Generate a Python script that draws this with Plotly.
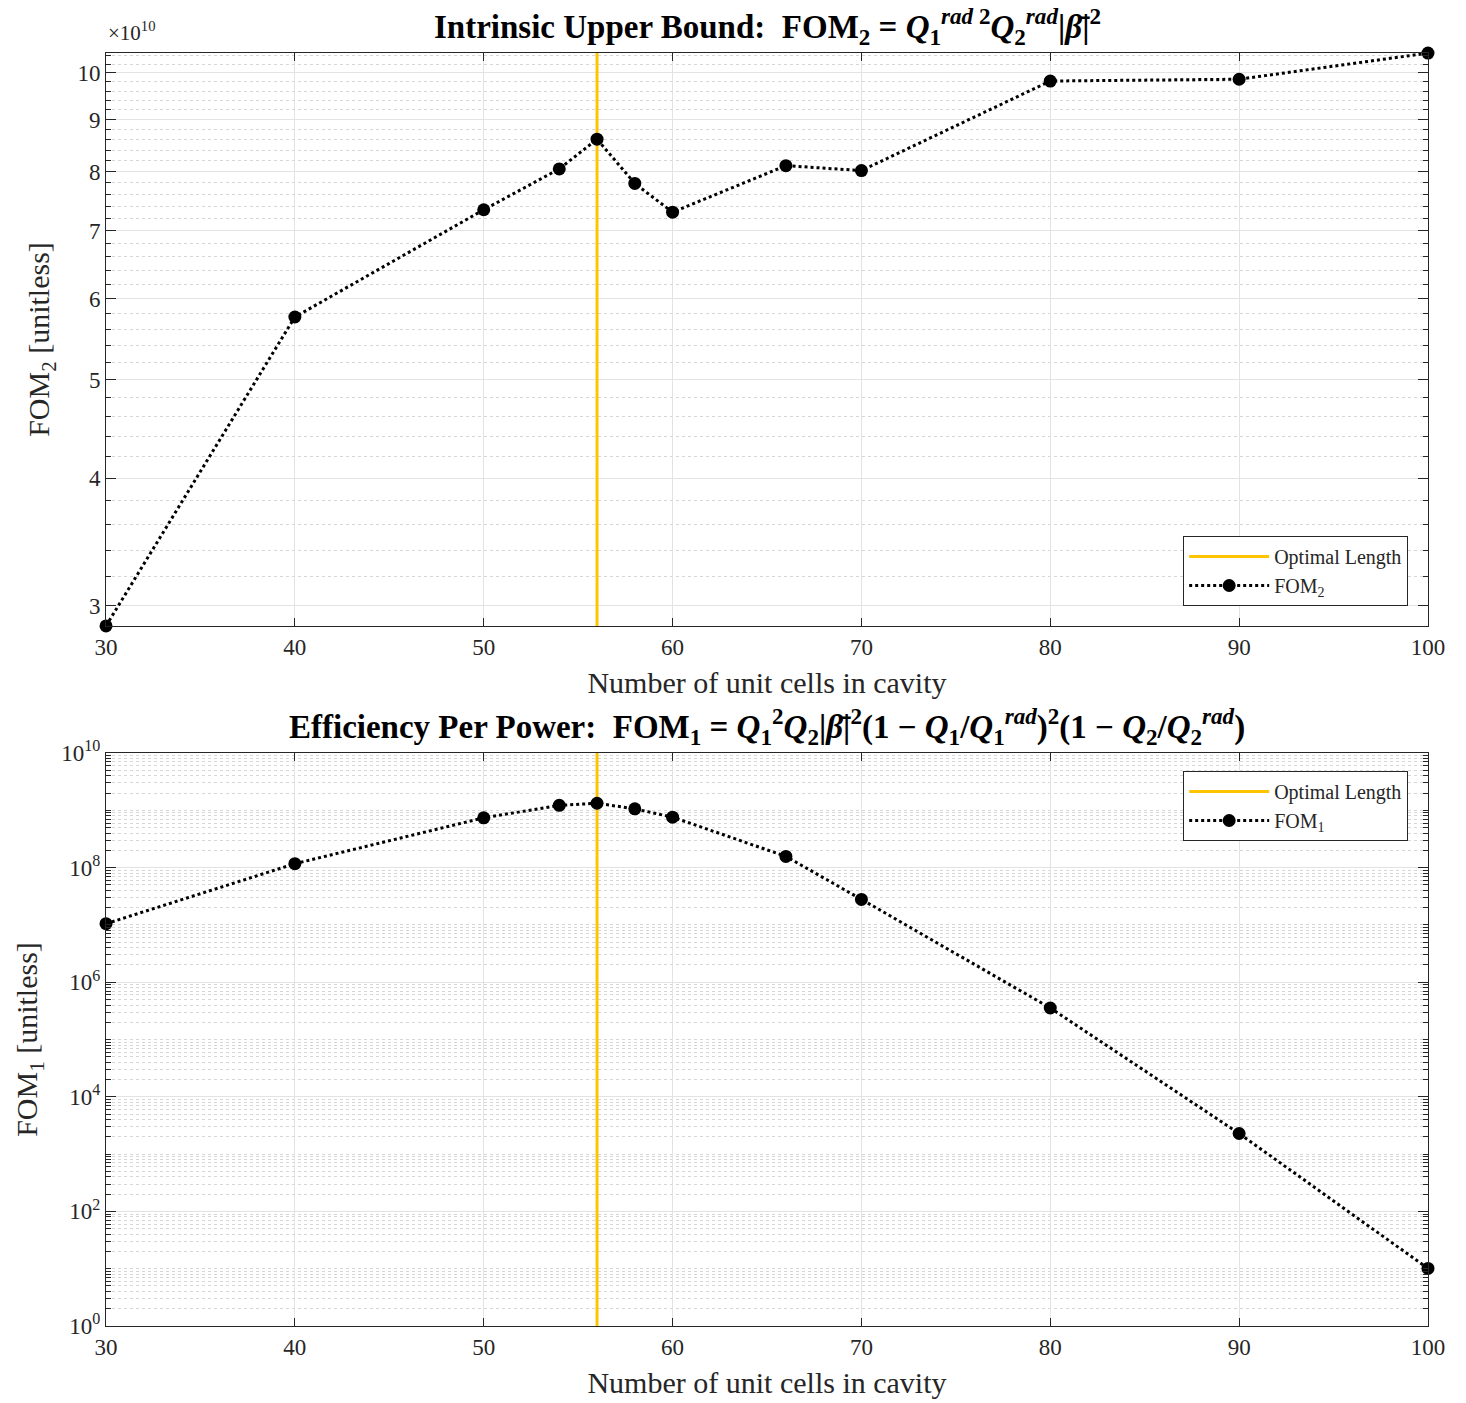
import numpy as np
import plotly.graph_objects as go

# ---------------- data ----------------
cells = [30, 40, 50, 54, 56, 58, 60, 66, 70, 80, 90, 100]
fom2 = [2.865e10, 5.76e10, 7.34e10, 8.05e10, 8.61e10, 7.79e10, 7.30e10,
        8.11e10, 8.02e10, 9.82e10, 9.86e10, 10.46e10]
fom1 = [1.05e7, 1.17e8, 7.4e8, 1.22e9, 1.33e9, 1.06e9, 7.6e8,
        1.57e8, 2.79e7, 3.55e5, 2.29e3, 10.1]
optimal_length = 56
x_ticks = [30, 40, 50, 60, 70, 80, 90, 100]
top_ticks = [3, 4, 5, 6, 7, 8, 9, 10]          # x 1e10
bot_tick_exps = [0, 2, 4, 6, 8, 10]
bot_range = [1, 1e10]

FONT = "Liberation Serif"
YELLOW = "#FFC400"
AXC = "#262626"
GRID = "#e3e3e3"
MINOR = "#d6d6d6"

fig = go.Figure()

top_range = [min(fom2), max(fom2)]

# top subplot
fig.add_trace(go.Scatter(x=[optimal_length, optimal_length], y=top_range,
                         mode="lines", line=dict(color=YELLOW, width=3),
                         name="Optimal Length", xaxis="x", yaxis="y",
                         legend="legend"))
fig.add_trace(go.Scatter(x=cells, y=fom2, mode="lines+markers",
                         line=dict(color="black", width=3, dash="dot"),
                         marker=dict(color="black", size=13),
                         name="FOM<sub>2</sub>", xaxis="x", yaxis="y",
                         legend="legend", cliponaxis=False))
# bottom subplot
fig.add_trace(go.Scatter(x=[optimal_length, optimal_length], y=bot_range,
                         mode="lines", line=dict(color=YELLOW, width=3),
                         name="Optimal Length", xaxis="x2", yaxis="y2",
                         legend="legend2"))
fig.add_trace(go.Scatter(x=cells, y=fom1, mode="lines+markers",
                         line=dict(color="black", width=3, dash="dot"),
                         marker=dict(color="black", size=13),
                         name="FOM<sub>1</sub>", xaxis="x2", yaxis="y2",
                         legend="legend2", cliponaxis=False))

tickfont = dict(family=FONT, size=23, color=AXC)
titlefont = dict(family=FONT, size=30, color=AXC)
EPS = 1e-4

xcommon = dict(range=[30 - 1e-3, 100 + 1e-3], tickvals=x_ticks, ticks="inside", ticklen=8,
               tickcolor=AXC, showline=True, linecolor=AXC, linewidth=1,
               mirror="ticks", showgrid=True, gridcolor=GRID, gridwidth=1,
               zeroline=False, tickfont=tickfont, automargin=False)

top_minor = [v * 1e10 for v in np.round(np.arange(2.8, 10.6, 0.2), 1)
             if abs(v - round(v)) > 1e-6]
bot_minor = []
for k in range(0, 10):
    for m in range(2, 10):
        bot_minor.append(m * 10 ** k)
    if k % 2 == 1:
        bot_minor.append(10 ** k)

legfont = dict(family=FONT, size=20, color=AXC)

fig.update_layout(
    width=1466, height=1403,
    margin=dict(l=106, r=38, t=53, b=77),
    paper_bgcolor="white", plot_bgcolor="white",
    font=dict(family=FONT, color=AXC),
    xaxis=dict(domain=[0, 1], anchor="y",
               title=dict(text="Number of unit cells in cavity", font=titlefont, standoff=13),
               **xcommon),
    yaxis=dict(domain=[0.5499, 1.0], anchor="x", type="log", automargin=False,
               range=[np.log10(top_range[0]) - EPS, np.log10(top_range[1]) + EPS],
               tickvals=[t * 1e10 for t in top_ticks],
               ticktext=[str(t) for t in top_ticks],
               ticks="inside", ticklen=10, tickcolor=AXC,
               showline=True, linecolor=AXC, linewidth=1, mirror="ticks",
               showgrid=True, gridcolor=GRID, gridwidth=1, zeroline=False,
               tickfont=tickfont,
               minor=dict(tickmode="array", tickvals=top_minor, ticks="inside",
                          ticklen=5, tickcolor=AXC, showgrid=True,
                          gridcolor=MINOR, griddash="dot", gridwidth=1),
               title=dict(text="FOM<sub>2</sub> [unitless]", font=titlefont, standoff=18)),
    xaxis2=dict(domain=[0, 1], anchor="y2",
                title=dict(text="Number of unit cells in cavity", font=titlefont, standoff=13),
                **xcommon),
    yaxis2=dict(domain=[0.0, 0.4501], anchor="x2", type="log", automargin=False,
                range=[np.log10(bot_range[0]) - EPS, np.log10(bot_range[1]) + EPS],
                tickvals=[10.0 ** e for e in bot_tick_exps],
                ticktext=["10<sup>%d</sup>" % e for e in bot_tick_exps],
                ticks="inside", ticklen=10, tickcolor=AXC,
                showline=True, linecolor=AXC, linewidth=1, mirror="ticks",
                showgrid=True, gridcolor=GRID, gridwidth=1, zeroline=False,
                tickfont=tickfont,
                minor=dict(tickmode="array", tickvals=bot_minor, ticks="inside",
                           ticklen=5, tickcolor=AXC, showgrid=True,
                           gridcolor=MINOR, griddash="dot", gridwidth=1),
                title=dict(text="FOM<sub>1</sub> [unitless]", font=titlefont, standoff=14)),
    legend=dict(x=0.985, y=0.5656, xanchor="right", yanchor="bottom",
                bgcolor="white", bordercolor=AXC, borderwidth=1,
                font=legfont, tracegroupgap=0, itemwidth=80),
    legend2=dict(x=0.985, y=0.436, xanchor="right", yanchor="top",
                 bgcolor="white", bordercolor=AXC, borderwidth=1,
                 font=legfont, tracegroupgap=0, itemwidth=80),
    showlegend=True,
)

title_font = dict(family=FONT, size=33, color="black")
fig.add_annotation(text="<b>Intrinsic Upper Bound:  FOM<sub>2</sub> = <i>Q</i><sub>1</sub><sup><i>rad</i> 2</sup><i>Q</i><sub>2</sub><sup><i>rad</i></sup>|<i>β̄</i>|<sup>2</sup></b>",
                   xref="paper", yref="paper", x=0.5, y=1.0, yshift=1,
                   xanchor="center", yanchor="bottom", showarrow=False, font=title_font)
fig.add_annotation(text="<b>Efficiency Per Power:  FOM<sub>1</sub> = <i>Q</i><sub>1</sub><sup>2</sup><i>Q</i><sub>2</sub>|<i>β̄</i>|<sup>2</sup>(1 − <i>Q</i><sub>1</sub>/<i>Q</i><sub>1</sub><sup><i>rad</i></sup>)<sup>2</sup>(1 − <i>Q</i><sub>2</sub>/<i>Q</i><sub>2</sub><sup><i>rad</i></sup>)</b>",
                   xref="paper", yref="paper", x=0.5, y=0.4501, yshift=1,
                   xanchor="center", yanchor="bottom", showarrow=False, font=title_font)
fig.add_annotation(text="×10<sup>10</sup>", xref="paper", yref="paper",
                   x=0.0, y=1.0, yshift=6, xanchor="left", yanchor="bottom",
                   showarrow=False, font=dict(family=FONT, size=21, color=AXC))

fig.write_html("out.html")
